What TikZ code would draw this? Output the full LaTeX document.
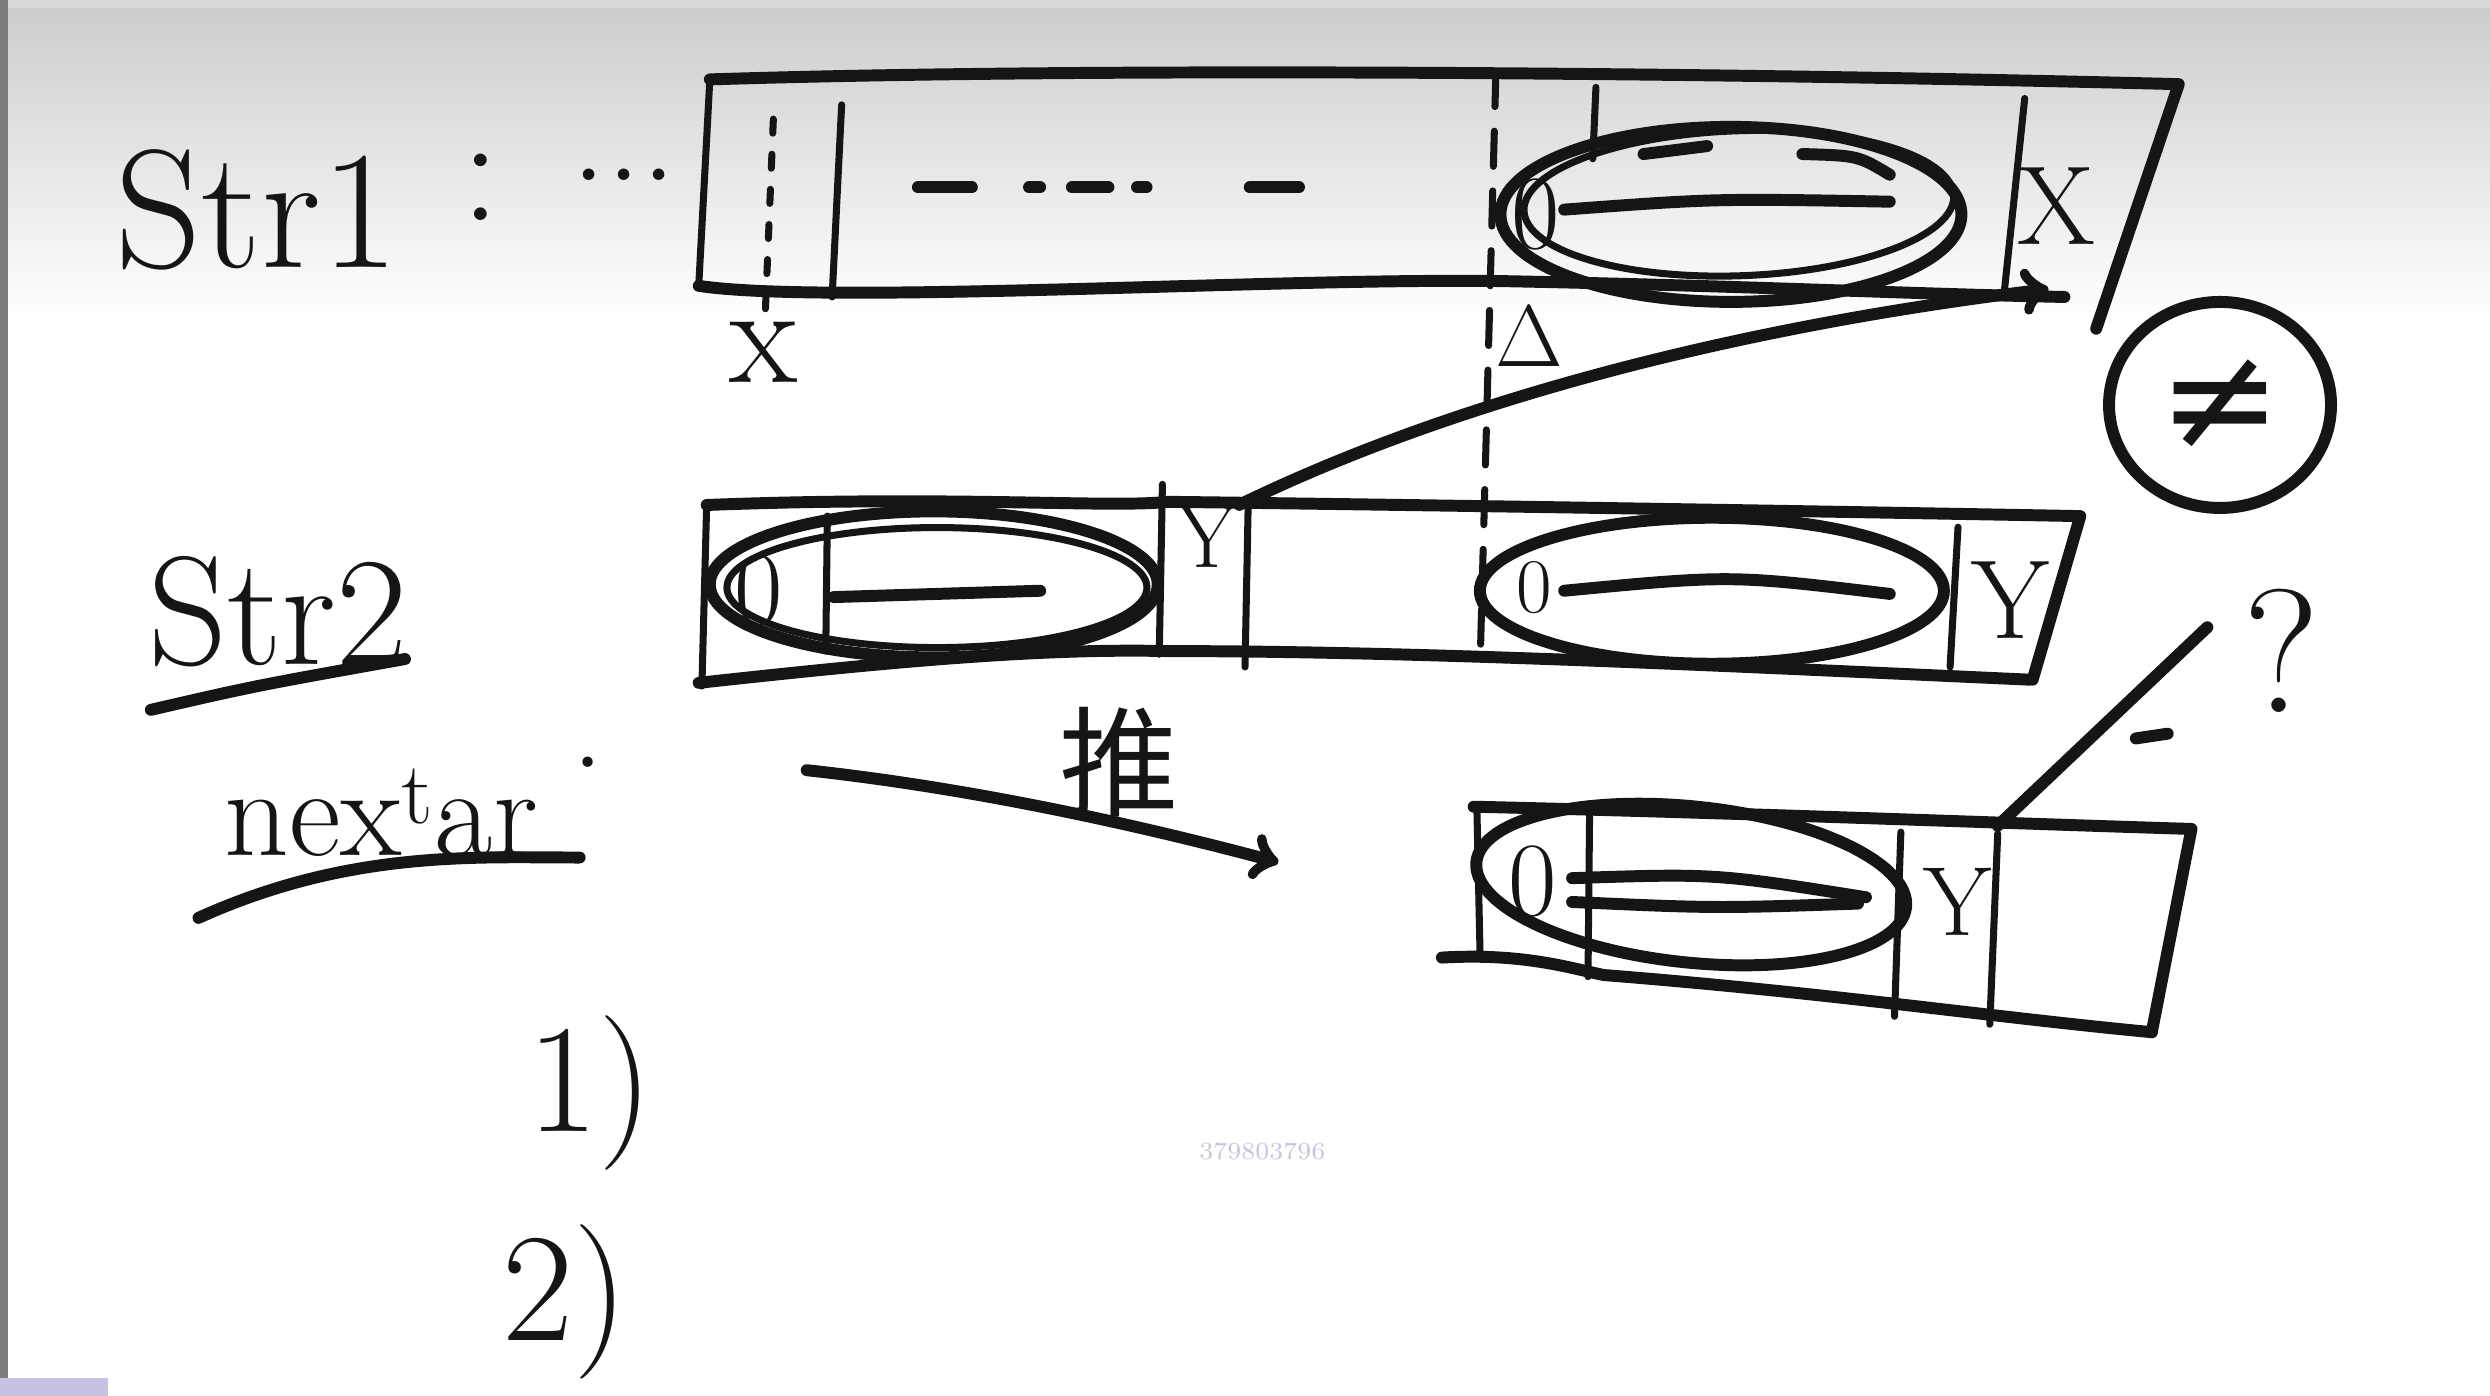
\documentclass[tikz,border=0pt]{standalone}
\usepackage{fontspec}
\usepackage{tikz}
\usetikzlibrary{positioning,shapes.geometric}
\newfontfamily\cjk{Noto Sans CJK SC}
\newfontfamily\symbolfont{DejaVu Sans}
\definecolor{InkBlack}{HTML}{151515}
\definecolor{BoardGray}{HTML}{CDCDCD}
\definecolor{MenuGray}{HTML}{DADADA}
\definecolor{EdgeGray}{HTML}{7C7C7C}
\definecolor{MarkLavender}{HTML}{C6C3E2}

\begin{document}
\begin{tikzpicture}[x=0.1588mm, y=-0.1588mm,
  pen/.style={draw=InkBlack, line width=3.4pt, line cap=round, line join=round},
  thinpen/.style={draw=InkBlack, line width=2pt, line cap=round},
  oval/.style={ellipse, draw=InkBlack, line width=3.4pt, inner sep=0pt},
  hand/.style={font=\fontsize{#1}{#1}\selectfont},
  every node/.style={text=InkBlack, inner sep=0pt}]
  % board
  \useasboundingbox (0,0) rectangle (1568,879);
  \fill[white] (0,0) rectangle (1568,879);
  \shade[top color=BoardGray, bottom color=white] (0,5) rectangle (1568,200);
  \fill[MenuGray] (0,0) rectangle (1568,5);
  \fill[EdgeGray] (0,0) rectangle (5,879);
  \fill[MarkLavender] (0,868) rectangle (68,879);

  % labels on the left
  \node[hand=48] (str1) at (162,132) {Str1};
  \node[hand=44] (colon1) at (303,118) {:};
  \node[hand=40] (dots1) at (393,110) {...};
  \node[hand=44] (str2) at (175,385) {Str2};
  \draw[pen] (95,447) .. controls (160,432) .. (255,415);
  \node[hand=36] (nextar) at (240,512) {nex\textsuperscript{t}ar};
  \node[hand=36] (dot1) at (370,492) {·};
  \draw[pen] (125,578) .. controls (220,535) and (300,540) .. (365,540);
  \node[hand=44] (case1) at (372,688) {1)};
  \node[hand=44] (case2) at (356,820) {2)};

  % Str1
  \draw[pen] (447,50) .. controls (700,42) and (1100,46) .. (1372,53) -- (1320,207);
  \draw[pen] (440,180) .. controls (520,192) and (800,175) .. (945,177) .. controls (1100,180) and (1200,185) .. (1300,187);
  \draw[thinpen] (447,50) -- (440,180);
  \draw[thinpen] (530,66) -- (524,187);
  \draw[thinpen, dash pattern=on 4pt off 6pt] (487,75) -- (482,195);
  \node[hand=40] (xmark1) at (481,222) {x};
  \foreach \a/\b in {578/612, 648/655, 675/698, 716/722, 787/818}
    \draw[pen] (\a,118) -- (\b,118);
  \draw[thinpen, dash pattern=on 10pt off 7pt] (942,45) -- (932,420);
  \draw[thinpen] (1005,55) -- (1003,100);
  \node[oval, minimum width=4.61cm, minimum height=1.75cm] (ov1) at (1090,135) {};
  \node[oval, line width=2pt, minimum width=4.3cm, minimum height=1.45cm, rotate=2] (ov1b) at (1095,128) {};
  \node[hand=30] (zero1) at (967,135) {0};
  \draw[pen] (985,132) .. controls (1080,125) .. (1190,127);
  \draw[pen] (1035,97) -- (1075,92);
  \draw[pen] (1135,97) .. controls (1170,98) .. (1190,110);
  \draw[thinpen] (1275,62) -- (1262,185);
  \node[hand=32] (xmark2) at (1295,130) {X};
  \node[hand=26] (delta1) at (963,212) {$\Delta$};
  \coordinate (xtip) at (1290,182);

  % the circle
  \node[oval, minimum width=2.22cm, minimum height=2.06cm, hand=42] (neq) at (1398,255) {\symbolfont ≠};

  % Str2
  \draw[pen] (445,318) .. controls (600,312) and (700,320) .. (735,316) .. controls (900,318) and (1150,322) .. (1310,325) -- (1280,428);
  \draw[pen] (440,430) .. controls (550,418) and (650,408) .. (735,410) .. controls (900,410) and (1100,420) .. (1278,428);
  \draw[thinpen] (445,318) -- (442,432);
  \draw[thinpen] (521,325) -- (520,410);
  \draw[thinpen] (732,305) -- (730,412);
  \draw[thinpen] (786,318) -- (784,420);
  \draw[thinpen] (1233,332) -- (1228,420);
  \node[oval, minimum width=4.48cm, minimum height=1.46cm] (ov2) at (588,368) {};
  \node[oval, line width=2pt, minimum width=4.2cm, minimum height=1.2cm] (ov2b) at (590,370) {};
  \node[hand=30] (zero2) at (478,372) {0};
  \draw[pen] (525,376) -- (655,372);
  \node[hand=26] (ya) at (760,338) {Y};
  \node[oval, minimum width=4.64cm, minimum height=1.46cm] (ov3) at (1078,372) {};
  \node[hand=22] (zero3) at (966,370) {0};
  \draw[pen] (985,372) .. controls (1090,362) .. (1190,374);
  \node[hand=32] (yb) at (1266,378) {Y};

  % shifted nextar
  \draw[pen] (928,508) .. controls (1100,512) and (1250,518) .. (1380,522) -- (1355,650);
  \draw[pen] (908,603) .. controls (960,600) and (990,610) .. (1010,614) .. controls (1150,625) and (1250,640) .. (1355,650);
  \draw[thinpen] (930,508) -- (932,600);
  \draw[thinpen] (1001,512) -- (1000,615);
  \draw[thinpen] (1197,524) -- (1193,640);
  \draw[thinpen] (1258,525) -- (1253,645);
  \node[oval, minimum width=4.32cm, minimum height=1.56cm, rotate=-6] (ov4) at (1065,557) {};
  \node[hand=30] (zero4) at (965,555) {0};
  \draw[pen] (990,553) .. controls (1080,550) .. (1175,565);
  \draw[pen] (990,568) .. controls (1080,572) .. (1170,569);
  \node[hand=28] (yc) at (1233,568) {Y};
  \coordinate (lastcell) at (1258,520);
  \coordinate (tickend) at (1390,395);
  \node[hand=50] (qmark) at (1437,410) {?};
  \draw[pen] (1345,465) -- (1365,462);

  % connectors
  \draw[pen, ->] (ya.north east) .. controls (920,250) and (1100,205) .. (xtip);
  \draw[pen] (lastcell) -- (tickend);
  \coordinate (pushfrom) at (508,485);
  \coordinate (pushto) at (805,543);
  \draw[pen, ->] (pushfrom) .. controls (600,495) and (700,515) .. (pushto);
  \node[hand=34] (push) at (705,480) {\cjk 推};

  \node[text=MarkLavender, hand=7] (mark) at (795,725) {379803796};
\end{tikzpicture}
\end{document}
